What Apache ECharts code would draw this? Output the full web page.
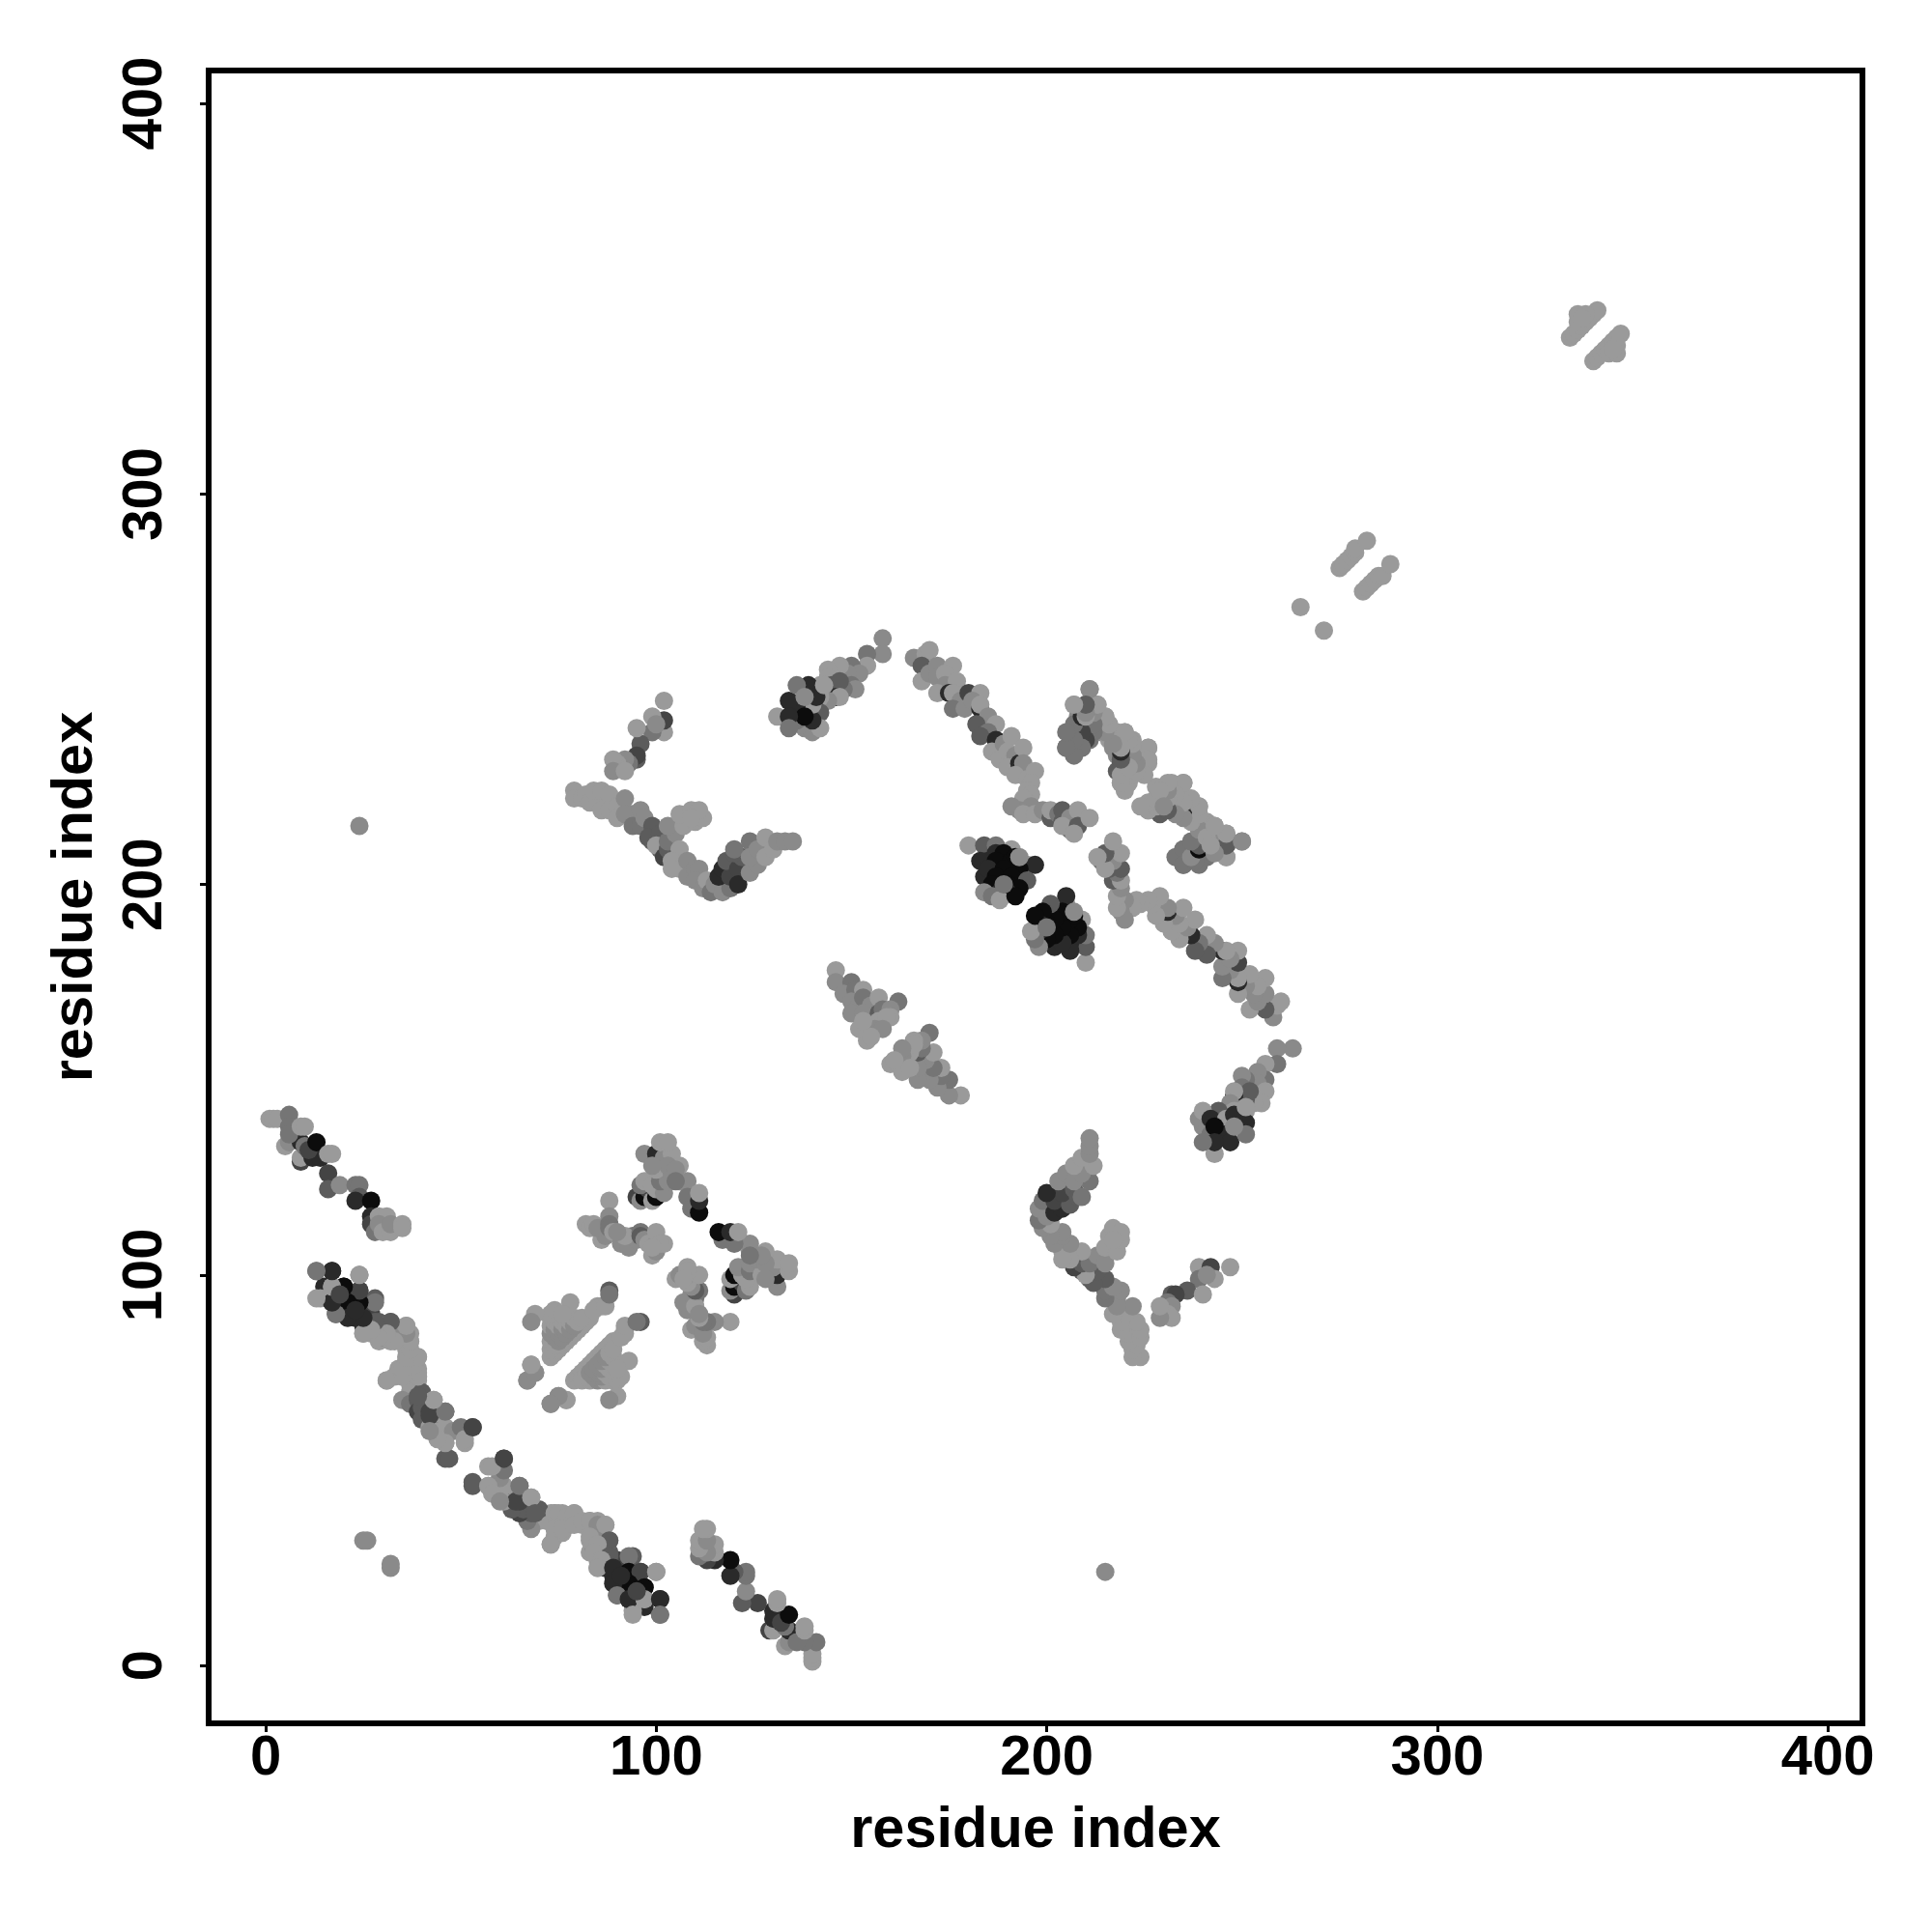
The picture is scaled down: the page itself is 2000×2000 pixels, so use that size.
<!DOCTYPE html>
<html>
<head>
<meta charset="utf-8">
<script src="https://cdn.jsdelivr.net/npm/echarts@6/dist/echarts.min.js"></script>
<style>html,body{margin:0;padding:0;background:#fff}#c{width:2000px;height:2000px}</style>
</head>
<body>
<div id="c"></div>
<script>
// Contacts as [residue a, residue b, intensity level 0..6]. The map is symmetric.
const contactsA = [[9,129,4],[9,130,0],[5,133,0],[6,134,1],[9,134,5],[10,133,2],[12,130,5],[14,130,5],[11,132,4],[13,134,6],[1,140,0],[2,140,0],[3,140,0],[6,141,2],[6,138,2],[6,136,2],[9,138,0],[10,138,0],[16,131,0],[17,131,0],[16,126,4],[16,122,3],[19,123,1],[23,123,2],[24,123,2],[24,120,3],[23,119,5],[27,119,6],[27,115,5],[27,113,4],[28,111,2],[29,115,0],[31,115,0],[29,113,1],[30,111,0],[32,111,0],[32,113,1],[35,113,0],[35,112,0]];
const contactsB = [[13,101,2],[17,101,5],[24,100,1],[16,97,0],[15,97,5],[17,97,1],[20,97,6],[24,96,4],[14,94,0],[17,93,5],[19,93,5],[22,95,5],[19,95,3],[22,91,5],[24,94,6],[28,94,3],[21,93,3],[18,90,3],[21,90,5],[23,92,3],[25,87,5],[25,89,5],[23,89,5],[23,91,4],[27,90,4],[27,88,4],[25,85,0],[27,85,0],[29,83,0],[29,85,0],[29,88,3],[30,87,2],[31,86,1],[34,85,1],[30,84,1],[32,83,0],[32,88,2],[36,87,0],[37,85,0],[37,83,0],[36,81,0],[37,80,0],[38,78,0],[39,79,0],[36,78,0],[39,76,0],[38,75,0],[39,73,0],[39,74,0],[31,73,1],[33,74,0],[34,76,0],[35,74,0],[37,72,0],[37,70,0],[35,68,1],[37,67,2],[39,68,3],[40,70,3],[41,67,3],[43,68,0],[39,65,4],[40,66,3],[40,63,3],[43,64,3],[46,65,2],[42,65,4],[44,62,0],[44,60,3],[42,61,0],[46,61,0],[48,60,1],[50,61,2],[53,61,3],[51,57,0],[46,57,1],[46,53,3],[47,53,3],[51,58,0],[46,57,0],[42,64,4],[44,58,0],[42,60,1]];
const contactsB2 = [[61,53,4],[65,46,2],[68,43,0],[69,39,3],[74,39,0],[75,39,0],[77,38,0],[79,39,0],[74,35,0],[76,35,0],[73,31,0],[79,36,0],[81,37,0],[83,37,0],[85,36,1],[87,36,0],[88,32,3],[83,33,0],[85,31,0],[84,29,0],[88,28,3],[86,27,0],[85,25,0],[89,25,5],[93,28,2],[93,24,6],[96,24,4],[100,24,0],[97,20,6],[93,21,6],[89,21,5],[91,23,5],[90,18,2],[93,17,5],[97,17,0],[94,13,0],[101,17,5],[101,13,2],[95,19,4]].map(([p,q,l])=>[q,p,l]);
const contactsC = [[73,79,0],[74,80,0],[75,81,0],[76,82,0],[77,83,0],[78,84,0],[79,85,0],[80,86,0],[81,87,0],[82,88,0],[83,89,0],[73,81,0],[73,83,0],[73,85,1],[73,87,0],[73,89,0],[74,82,0],[74,84,1],[74,86,1],[74,88,0],[75,83,1],[75,85,1],[75,87,0],[75,89,0],[76,84,1],[76,86,1],[76,88,0],[77,85,1],[77,87,0],[77,89,0],[78,86,1],[78,88,0],[79,87,1],[79,89,0],[80,88,0],[81,89,0],[73,90,0],[69,90,0],[68,88,1],[78,93,0],[74,91,0],[76,90,0],[85,92,0],[86,92,0],[84,91,0],[88,96,3],[87,92,0],[88,95,2],[68,77,0],[69,75,1],[67,73,1],[73,67,1],[75,69,1],[77,68,0]];
const contactsD = [[82,113,0],[83,112,0],[84,113,0],[86,109,0],[87,110,1],[85,112,1],[88,119,0],[88,115,1],[88,113,2],[88,112,2],[89,111,0],[91,108,1],[93,107,1],[94,110,2],[95,109,1],[92,110,0],[90,111,1],[96,111,2],[96,110,3],[97,109,1],[98,108,0],[99,105,0],[100,108,1],[100,106,1],[100,111,0],[102,108,0],[101,108,0],[99,107,0],[95,120,4],[96,119,1],[97,120,6],[98,122,4],[99,119,0],[96,123,2],[97,124,0],[100,120,6],[100,123,6],[100,122,0],[99,123,0],[102,121,1],[101,124,2],[103,124,1],[106,124,1],[108,124,1],[108,120,2],[109,117,2],[111,116,6],[111,119,5],[111,121,0],[97,131,1],[100,131,5],[101,128,2],[100,127,0],[102,130,1],[104,126,1],[104,131,0],[106,128,0],[103,128,1],[101,134,0],[103,134,0],[105,127,1],[99,128,1],[105,124,2]];
const contactsE = [[102,239,0],[102,242,4],[102,247,0],[99,243,0],[99,239,2],[100,241,1],[96,236,3],[95,232,3],[95,233,4],[95,240,0],[93,231,2],[92,232,1],[90,231,0],[89,232,0],[89,229,1],[92,229,0],[79,224,0],[79,222,0],[81,222,0],[82,223,0],[83,221,0],[85,221,0],[84,224,0],[86,224,0],[88,223,0],[86,219,0],[88,219,0],[90,220,0],[90,217,0],[94,218,1],[92,222,1],[92,218,1],[96,219,1],[94,215,2],[96,215,2],[97,217,1],[99,215,3],[99,211,3],[98,212,3],[101,213,3],[101,209,3],[100,210,0],[102,207,4],[103,209,3],[103,211,2],[105,213,1],[103,215,1],[107,215,0],[110,216,0],[112,217,0],[106,209,0],[106,218,0],[109,219,0],[111,219,0],[109,217,0],[104,206,0],[106,204,0],[104,204,0],[108,206,1],[108,202,1],[110,204,1],[111,204,1],[110,201,1],[112,199,1],[113,201,0],[114,198,2],[115,200,1],[117,198,1],[119,199,2],[116,202,5],[117,204,5],[119,202,4],[118,206,3],[121,204,4],[121,200,5],[122,207,3],[120,208,3],[120,209,2],[124,211,2],[124,203,1],[126,205,1],[124,207,1],[126,209,1],[128,212,0],[128,207,0],[130,209,0],[131,211,1],[133,211,1],[135,211,1]];
const contactsF = [[158,263,1],[158,259,1],[154,259,2],[154,256,0],[150,256,2],[152,254,1],[149,254,1],[147,256,0],[144,255,0],[144,253,0],[150,251,2],[151,250,1],[148,250,2],[145,251,3],[147,252,3],[142,251,0],[139,251,5],[146,248,5],[147,248,0],[144,247,1],[142,248,0],[138,240,1],[140,239,1],[137,241,1],[136,242,2],[142,244,3],[142,240,0],[140,242,5],[140,246,0],[136,246,5],[138,243,6],[131,243,0],[134,247,5],[134,243,5],[134,240,2],[136,251,2],[141,248,5],[138,248,1],[143,251,0]];
const contactsG = [[166,258,1],[169,259,0],[170,260,0],[168,256,3],[168,252,0],[170,254,1],[172,256,1],[176,256,0],[172,253,1],[174,254,0],[174,251,1],[172,249,0],[177,252,0],[175,249,5],[176,249,0],[178,247,1],[180,249,4],[183,249,0],[176,245,2],[179,245,1],[181,247,1],[183,245,5],[183,246,0],[185,243,1],[182,241,3],[187,241,0],[185,239,2],[183,238,3],[187,237,5],[186,234,0],[189,236,1],[188,232,0],[191,238,0],[190,234,0],[192,233,1],[190,230,0],[193,231,5],[194,235,0],[194,231,1],[192,228,0],[195,227,0],[197,229,0],[196,226,0],[195,224,0],[196,223,0],[195,221,0],[194,222,0],[196,220,1],[193,219,1],[191,220,1],[194,218,0],[197,218,0],[199,219,1],[201,217,3],[201,219,0],[203,218,2],[204,216,3],[204,219,3],[206,217,1],[206,214,2],[204,215,0],[208,219,0],[208,215,3],[207,213,0],[211,217,0]];
const contactsH = [[209,235,2],[205,235,2],[206,238,2],[207,237,1],[209,239,6],[210,239,3],[211,237,2],[214,239,1],[207,246,0],[210,246,3],[213,246,0],[208,243,1],[212,241,0],[210,242,0],[215,243,0],[211,250,1],[216,237,0],[218,239,0],[219,235,5],[217,235,1],[220,239,0],[222,237,0],[221,235,0],[226,235,0],[218,233,1],[218,229,3],[219,231,3],[223,233,0],[222,231,0],[224,231,1],[226,231,0],[219,226,0],[220,228,0],[221,226,0],[220,224,0],[222,228,0],[224,229,0],[220,230,1]];
const contactsI = [[235,226,0],[232,226,0],[228,225,0],[229,223,0],[231,223,1],[233,222,1],[236,222,0],[226,219,0],[228,219,0],[230,221,0],[232,219,3],[234,219,5],[235,219,0],[237,221,0],[239,220,0],[236,217,1],[239,215,1],[241,216,0],[243,215,0],[239,212,2],[241,212,2],[244,212,1],[246,213,0],[250,211,1],[237,210,4],[239,209,4],[235,209,2],[233,207,2],[237,207,2],[241,207,2],[235,205,2],[239,205,2],[243,209,5],[243,210,0],[244,210,1],[246,210,3],[246,207,0]];
const contactsJ = [[180,210,0],[184,210,3],[187,210,2],[191,209,0],[185,206,5],[187,208,5],[189,208,6],[183,206,5],[187,206,6],[191,206,6],[192,207,6],[195,205,0],[197,205,5],[184,202,5],[185,204,5],[189,204,6],[193,204,6],[187,202,6],[191,202,6],[195,201,3],[186,200,6],[190,200,6],[193,199,6],[184,198,1],[188,198,5],[190,198,5],[186,197,2],[188,196,0],[192,197,6],[189,200,2],[193,207,1]];
const contactsK = [[146,178,0],[146,175,1],[150,175,2],[148,172,1],[151,173,2],[153,173,0],[150,170,1],[152,169,1],[150,167,1],[153,171,2],[155,169,1],[157,171,0],[162,170,2],[153,167,1],[157,167,3],[158,168,2],[160,168,1],[160,166,0],[154,160,0],[154,162,0],[155,164,0],[157,165,0],[159,166,0],[156,163,1],[158,163,1],[152,163,0],[153,165,0],[155,161,0]];
const contactsL = [[25,32,1],[26,32,1],[24,215,1],[265,271,0],[275,281,0],[276,282,0],[277,283,0],[278,284,0],[279,285,0],[279,286,0],[282,288,0],[334,340,0],[335,341,0],[336,342,0],[337,343,0],[338,344,0],[339,345,0],[340,346,0],[341,347,0],[336,344,0],[336,346,0],[338,346,0],[337,345,0]];

const levelColors = ['#9a9a9a','#8a8a8a','#757575','#5c5c5c','#444444','#2a2a2a','#0c0c0c'];
const tickValues = [0,100,200,300,400];
const axisTitle = 'residue index';

const contacts = [contactsA,contactsB,contactsB2,contactsC,contactsD,contactsE,contactsF,contactsG,contactsH,contactsI,contactsJ,contactsK,contactsL].flat();
const points = [];
contacts.forEach(([a,b,l]) => { points.push([a,b,l]); });
contacts.forEach(([a,b,l]) => { points.push([b,a,l]); });

const font = '"Liberation Sans", Arial, sans-serif';
function axis(extra){
  return Object.assign({
    type:'value', name:axisTitle, nameLocation:'middle',
    nameTextStyle:{fontFamily:font,fontWeight:'bold',fontSize:59.5,color:'#000'},
    splitLine:{show:false},
    axisLine:{show:true,onZero:false,lineStyle:{color:'#000',width:6}},
    axisTick:{show:true,length:9,customValues:tickValues,lineStyle:{color:'#000',width:3}},
  },extra);
}
const chart = echarts.init(document.getElementById('c'),null,{renderer:'canvas'});
chart.setOption({
  animation:false,
  backgroundColor:'#fff',
  grid:{left:216,top:73,width:1712,height:1711,show:true,borderColor:'#000',borderWidth:6,backgroundColor:'#fff',containLabel:false},
  xAxis:axis({min:-14.6,max:408.9,nameGap:82,
    axisLabel:{customValues:tickValues,margin:8,fontFamily:font,fontWeight:'bold',fontSize:58,color:'#000',hideOverlap:false,showMinLabel:true,showMaxLabel:true}}),
  yAxis:axis({min:-14.8,max:408.4,nameGap:107,
    axisLabel:{customValues:tickValues,rotate:90,margin:65,fontFamily:font,fontWeight:'bold',fontSize:58,color:'#000',hideOverlap:false,showMinLabel:true,showMaxLabel:true,align:'center',verticalAlign:'middle'}}),
  series:[{type:'scatter',symbol:'circle',symbolSize:19,silent:true,clip:false,large:false,progressive:0,
    data:points,itemStyle:{opacity:1,color:p=>levelColors[p.value[2]]}}]
});
</script>
</body>
</html>
